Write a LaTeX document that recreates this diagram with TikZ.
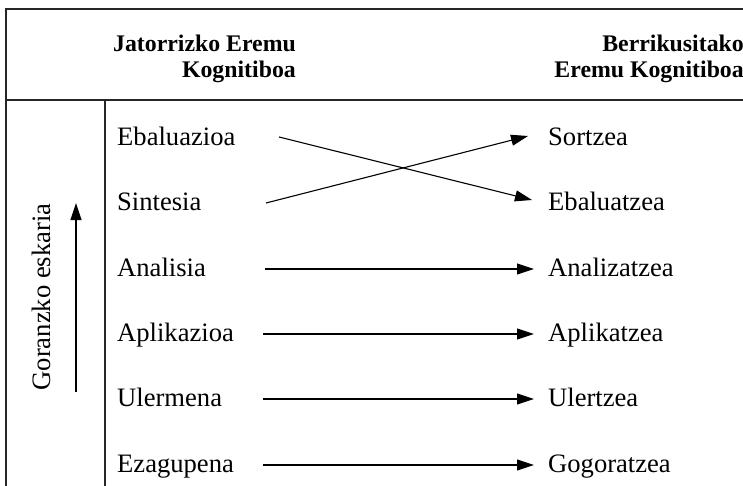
\documentclass[tikz,border=0pt]{standalone}
\usepackage{fontspec}
\setmainfont{Liberation Serif}
\usetikzlibrary{arrows.meta}
\begin{document}
\begin{tikzpicture}[x=1pt,y=-1pt,
  frame/.style={line width=1.1pt, draw=black!85},
  arr/.style={line width=1.1pt, -{Triangle[length=17pt,width=11pt]}},
  rowtxt/.style={anchor=base west, inner sep=0pt, font=\fontsize{26.6}{30}\selectfont},
  headtxt/.style={anchor=base east, inner sep=0pt, align=right, font=\bfseries\fontsize{23.8}{26}\selectfont}]
\useasboundingbox (0,0) rectangle (743,486);
% frame
\draw[frame] (743,9) -- (6,9) -- (6,486);
\draw[frame] (6,100) -- (743,100);
\draw[frame] (105,100) -- (105,486);
% headers
\node[headtxt] (hl) at (296,78) {Jatorrizko Eremu\\Kognitiboa};
\node[headtxt] (hr) at (744,78) {Berrikusitako\\Eremu Kognitiboa};
% left column
\node[rowtxt] (l1) at (117,146) {Ebaluazioa};
\node[rowtxt] (l2) at (117,211) {Sintesia};
\node[rowtxt] (l3) at (117,276) {Analisia};
\node[rowtxt] (l4) at (117,341) {Aplikazioa};
\node[rowtxt] (l5) at (117,406) {Ulermena};
\node[rowtxt] (l6) at (117,472) {Ezagupena};
% right column
\node[rowtxt] (r1) at (548,146) {Sortzea};
\node[rowtxt] (r2) at (548,211) {Ebaluatzea};
\node[rowtxt] (r3) at (548,276) {Analizatzea};
\node[rowtxt] (r4) at (548,341) {Aplikatzea};
\node[rowtxt] (r5) at (548,406) {Ulertzea};
\node[rowtxt] (r6) at (548,472) {Gogoratzea};
% arrow starts
\coordinate (s1) at (279,137);
\coordinate (s2) at (266,203);
\coordinate (s3) at (265,269);
\coordinate (s4) at (263,334);
\coordinate (s5) at (263,399);
\coordinate (s6) at (263,465);
% arrows
\draw[arr] (s1) -- ([shift={(-16pt,11pt)}]r2.base west);
\draw[arr] (s2) -- ([shift={(-20pt,10pt)}]r1.base west);
\draw[arr] (s3) -- ([shift={(-14pt,7pt)}]r3.base west);
\draw[arr] (s4) -- ([shift={(-14pt,7pt)}]r4.base west);
\draw[arr] (s5) -- ([shift={(-14pt,7pt)}]r5.base west);
\draw[arr] (s6) -- ([shift={(-14pt,7pt)}]r6.base west);
% vertical arrow and label
\coordinate (vb) at (76,392);
\coordinate (vt) at (76,203);
\draw[arr] (vb) -- (vt);
\node[rotate=90, anchor=base, inner sep=0pt, font=\fontsize{26.6}{30}\selectfont] (gl) at (50,297) {Goranzko eskaria};
\end{tikzpicture}
\end{document}
